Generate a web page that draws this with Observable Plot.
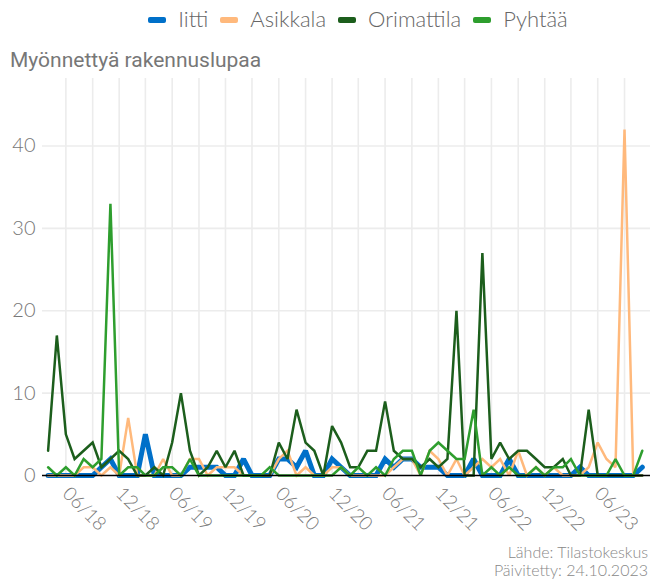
<!DOCTYPE html>
<html>
<head>
<meta charset="utf-8">
<script src="https://cdn.jsdelivr.net/npm/d3@7"></script>
<script src="https://cdn.jsdelivr.net/npm/@observablehq/plot@0.6"></script>
<style>
  html, body { margin: 0; padding: 0; background: #fff; }
  #wrap { position: relative; width: 650px; height: 579px; overflow: hidden; font-family: Lato, "Open Sans", sans-serif; }
  #legend { position: absolute; top: 5px; left: 33px; width: 650px; text-align: center; font-size: 22px; font-weight: 300; color: #666; white-space: nowrap; }
  #legend .item { display: inline-block; margin: 0 6px; }
  #legend .sw { display: inline-block; width: 18px; height: 6px; border-radius: 2px; vertical-align: middle; margin-right: 12px; position: relative; top: -2px; }
  #title { position: absolute; top: 48px; left: 10px; font-family: Roboto, sans-serif; font-size: 21px; color: #777; }
  #caption { position: absolute; right: 2px; bottom: 0px; text-align: right; font-size: 16px; font-weight: 300; color: #888; line-height: 18px; }
  #chart { position: absolute; top: 0; left: 0; }
</style>
</head>
<body>
<div id="wrap">
  <div id="chart"></div>
  <div id="legend"></div>
  <div id="title">Myönnettyä rakennuslupaa</div>
  <div id="caption"><div>Lähde: Tilastokeskus</div><div>Päivitetty: 24.10.2023</div></div>
</div>
<script>
// Months (first day of month), April 2018 – November 2023
const months = [
  "2018-04","2018-05","2018-06","2018-07","2018-08","2018-09","2018-10","2018-11","2018-12",
  "2019-01","2019-02","2019-03","2019-04","2019-05","2019-06","2019-07","2019-08","2019-09","2019-10","2019-11","2019-12",
  "2020-01","2020-02","2020-03","2020-04","2020-05","2020-06","2020-07","2020-08","2020-09","2020-10","2020-11","2020-12",
  "2021-01","2021-02","2021-03","2021-04","2021-05","2021-06","2021-07","2021-08","2021-09","2021-10","2021-11","2021-12",
  "2022-01","2022-02","2022-03","2022-04","2022-05","2022-06","2022-07","2022-08","2022-09","2022-10","2022-11","2022-12",
  "2023-01","2023-02","2023-03","2023-04","2023-05","2023-06","2023-07","2023-08","2023-09","2023-10","2023-11"
];

const seriesNames = ["Iitti", "Asikkala", "Orimattila", "Pyhtää"];
const seriesColors = ["#0070c9", "#ffb97c", "#1c5e1c", "#2e9e2e"];

const iitti = [
  0,0,0,0,0,0,1,2,0,
  0,0,5,0,0,0,0,1,1,1,1,0,
  0,2,0,0,0,2,2,1,3,0,0,2,
  1,0,0,0,0,2,1,2,2,1,1,1,
  0,0,0,2,0,0,0,2,0,0,0,0,
  0,0,0,1,0,0,0,0,0,0,1
];
const asikkala = [
  0,0,0,0,1,1,0,1,0,
  7,0,0,0,2,0,0,2,2,0,1,1,
  1,0,0,0,0,2,3,0,1,0,0,1,
  1,0,0,0,0,0,1,2,2,0,3,2,
  0,2,0,1,2,1,2,0,3,0,1,0,
  1,0,0,0,1,4,2,1,42,0,0
];
const orimattila = [
  3,17,5,2,3,4,1,2,3,
  2,0,0,1,0,4,10,3,0,1,3,1,
  3,0,0,0,0,4,2,8,4,3,0,6,
  4,1,1,3,3,9,3,2,2,1,2,1,
  2,20,0,0,27,2,4,2,3,3,2,1,
  1,2,0,0,8,0,0,0,0,0,0
];
const pyhtaa = [
  1,0,1,0,2,1,2,33,0,
  1,1,0,0,1,1,0,2,0,0,0,0,
  0,0,0,0,1,0,0,0,0,0,0,0,
  1,0,1,0,1,0,2,3,3,0,3,4,
  3,2,2,8,0,1,0,1,0,0,1,0,
  1,1,2,0,0,0,0,2,0,0,3
];

const yTicks = [0, 10, 20, 30, 40];
const xTickLabels = ["06/18","12/18","06/19","12/19","06/20","12/20","06/21","12/21","06/22","12/22","06/23"];

const parseMonth = d3.utcParse("%Y-%m");
const parseTick = d3.utcParse("%m/%y");
const dates = months.map(parseMonth);
const xTicks = xTickLabels.map(parseTick);
const quarterGrid = dates.filter(d => d.getUTCMonth() % 3 === 2);

const valuesBySeries = [iitti, asikkala, orimattila, pyhtaa];
const widths = [5, 2.5, 2.5, 2.5];

const tables = seriesNames.map((name, s) =>
  valuesBySeries[s].map((v, i) => ({date: dates[i], value: v, series: name}))
);

// x domain chosen so the monthly points land where they sit in the reference
const x0 = new Date(Date.UTC(2018, 2, 12, 19));
const x1 = new Date(Date.UTC(2023, 10, 29, 5));

const chart = Plot.plot({
  width: 650,
  height: 579,
  marginTop: 78,
  marginBottom: 104,
  marginLeft: 42,
  marginRight: 0,
  style: {fontFamily: "Lato, 'Open Sans', sans-serif", background: "transparent", overflow: "visible"},
  x: {type: "utc", domain: [x0, x1]},
  y: {domain: [0, 48.2]},
  marks: [
    Plot.gridX(quarterGrid, {stroke: "#ececec", strokeOpacity: 1, strokeWidth: 1.6}),
    Plot.gridY(yTicks.filter(t => t > 0), {stroke: "#ececec", strokeOpacity: 1, strokeWidth: 1.6}),
    Plot.axisY(yTicks, {tickSize: 0, tickPadding: 7, fontSize: 20, fontWeight: 300, fill: "#777", label: null}),
    Plot.axisX(xTicks, {tickSize: 0, tickPadding: 15, tickRotate: 45, tickFormat: d3.utcFormat("%m/%y"),
      fontSize: 19, fontWeight: 300, fill: "#777", label: null}),
    ...tables.map((t, s) => Plot.line(t, {x: "date", y: "value", stroke: seriesColors[s], strokeWidth: widths[s], strokeLinejoin: "miter", strokeMiterlimit: 2})),
    Plot.ruleY([0], {stroke: "#000", strokeWidth: 1.5})
  ]
});
document.getElementById("chart").appendChild(chart);

const legend = document.getElementById("legend");
seriesNames.forEach((name, i) => {
  const item = document.createElement("span");
  item.className = "item";
  const sw = document.createElement("span");
  sw.className = "sw";
  sw.style.background = seriesColors[i];
  item.appendChild(sw);
  item.appendChild(document.createTextNode(name));
  legend.appendChild(item);
});
</script>
</body>
</html>
